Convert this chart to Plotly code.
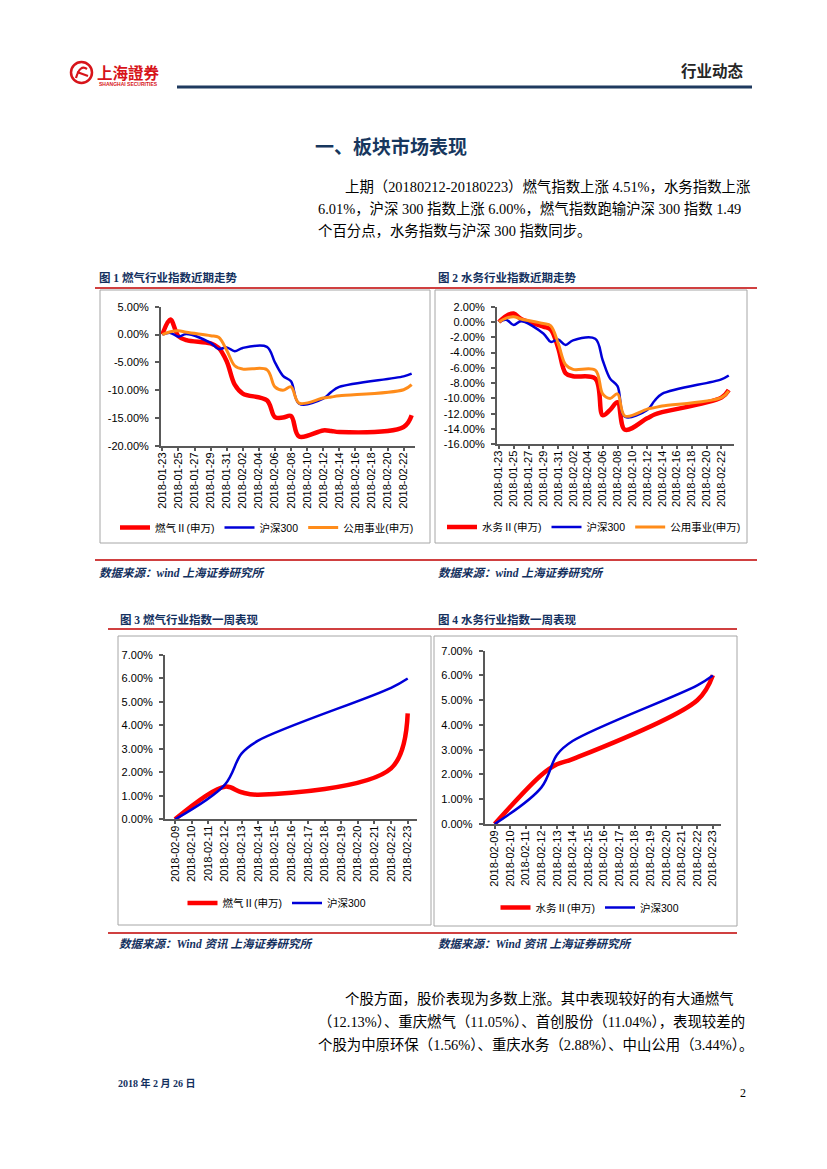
import plotly.graph_objects as go

W, H = 827, 1169

# ---------------- data ----------------
dates_month = ['2018-01-23', '2018-01-24', '2018-01-25', '2018-01-26', '2018-01-29',
               '2018-01-30', '2018-01-31', '2018-02-01', '2018-02-02', '2018-02-05',
               '2018-02-06', '2018-02-07', '2018-02-08', '2018-02-09', '2018-02-12',
               '2018-02-13', '2018-02-14', '2018-02-22', '2018-02-23']
gas_month = [0, 2.7, -0.3, -1.0, -1.6, -2.4, -4.8, -9.0, -10.6, -11.8,
             -14.8, -14.9, -14.6, -18.3, -17.2, -17.3, -17.5, -16.6, -14.5]
water_month = [0, 0.8, 1.1, 0.4, -0.6, -1.0, -3.4, -6.7, -7.1, -7.4,
               -12.2, -11.5, -10.5, -14.1, -12.6, -12.1, -11.8, -9.9, -8.9]
hs300_month = [0, 0.3, -0.4, 0.1, -1.5, -2.6, -2.3, -3.0, -2.4, -2.2,
               -5.0, -7.4, -8.4, -12.4, -11.5, -10.3, -9.4, -7.5, -7.0]
util_month = [0, 0.5, 0.7, 0.4, -0.2, -0.5, -2.8, -5.6, -6.2, -6.3,
              -9.4, -10.0, -9.4, -12.3, -11.4, -11.2, -11.0, -9.9, -9.0]

dates_week = ['2018-02-09', '2018-02-12', '2018-02-13', '2018-02-14', '2018-02-22', '2018-02-23']
gas_week = [0, 1.39, 1.15, 1.05, 2.17, 4.51]
water_week = [0, 1.98, 2.41, 2.62, 5.0, 6.01]
hs300_week = [0, 1.48, 2.8, 3.35, 5.6, 6.00]

y_ticks_1 = [-20, -15, -10, -5, 0, 5]
y_ticks_2 = [-16, -14, -12, -10, -8, -6, -4, -2, 0, 2]
y_ticks_w = [0, 1, 2, 3, 4, 5, 6, 7]

name_gas = '燃气Ⅱ(申万)'
name_water = '水务Ⅱ(申万)'
name_hs300 = '沪深300'
name_util = '公用事业(申万)'

# ---------------- style ----------------
RED = '#FF0000'
BLUE = '#0000D8'
ORANGE = '#FF8C1A'
AXIS = '#595959'
RULE = '#C00000'
NAVY = '#13305E'
BOX = '#A6A6A6'
SANS = 'Liberation Sans, Arial, Noto Sans CJK SC'
SERIF = 'Liberation Serif, Noto Sans CJK SC'
CJK = 'Noto Sans CJK SC'


def fx(p):
    return p / W


def fy(p):
    return 1 - p / H


def pct(v):
    return f'{v:.2f}%'


fig = go.Figure()


def add_line(x, y, name, color, width, ax, leg):
    fig.add_trace(go.Scatter(
        x=x, y=y, name=name, mode='lines',
        line=dict(color=color, width=width, shape='spline', smoothing=1),
        xaxis='x' + ax, yaxis='y' + ax, legend=leg, hoverinfo='skip'))


add_line(dates_month, gas_month, name_gas, RED, 4.5, '', 'legend')
add_line(dates_month, hs300_month, name_hs300, BLUE, 2.5, '', 'legend')
add_line(dates_month, util_month, name_util, ORANGE, 3, '', 'legend')

add_line(dates_month, water_month, name_water, RED, 4.5, '2', 'legend2')
add_line(dates_month, hs300_month, name_hs300, BLUE, 2.5, '2', 'legend2')
add_line(dates_month, util_month, name_util, ORANGE, 3, '2', 'legend2')

add_line(dates_week, gas_week, name_gas, RED, 4.5, '3', 'legend3')
add_line(dates_week, hs300_week, name_hs300, BLUE, 2.5, '3', 'legend3')

add_line(dates_week, water_week, name_water, RED, 4.5, '4', 'legend4')
add_line(dates_week, hs300_week, name_hs300, BLUE, 2.5, '4', 'legend4')

common_axis = dict(showline=True, linecolor=AXIS, linewidth=2, ticks='outside',
                   ticklen=4, tickwidth=1.5, tickcolor=AXIS, showgrid=False,
                   zeroline=False, automargin=False,
                   tickfont=dict(family=SANS, size=11, color='#000000'))


def xaxis(dom, rng, tick0, dtick, anchor):
    d = dict(common_axis)
    d.update(domain=[fx(dom[0]), fx(dom[1])], type='date', range=rng, tick0=tick0,
             dtick=dtick, tickformat='%Y-%m-%d', tickangle=-90, anchor=anchor,
             ticklen=3, ticklabelstandoff=-3)
    return d


def yaxis(dom, rng, ticks, anchor):
    d = dict(common_axis)
    d.update(domain=[fy(dom[1]), fy(dom[0])], range=rng, tickvals=ticks,
             ticktext=[pct(t) for t in ticks], anchor=anchor, ticklabelstandoff=4)
    return d


DAY = 86400000

layout = dict(
    width=W, height=H, margin=dict(l=0, r=0, t=0, b=0),
    paper_bgcolor='white', plot_bgcolor='white', template='none',
    xaxis=xaxis((161, 415), ['2018-01-22 20:00', '2018-02-23 10:00'], '2018-01-23', 2 * DAY, 'y'),
    yaxis=yaxis((306.7, 446), [-20, 5], y_ticks_1, 'x'),
    xaxis2=xaxis((497, 733.7), ['2018-01-22 18:00', '2018-02-23 16:00'], '2018-01-23', 2 * DAY, 'y2'),
    yaxis2=yaxis((306.7, 444.3), [-16, 2], y_ticks_2, 'x2'),
    xaxis3=xaxis((165, 416.7), ['2018-02-08 09:30', '2018-02-23 13:00'], '2018-02-09', DAY, 'y3'),
    yaxis3=yaxis((655, 819.3), [0, 7], y_ticks_w, 'x3'),
    xaxis4=xaxis((484.7, 721.3), ['2018-02-08 08:40', '2018-02-23 13:00'], '2018-02-09', DAY, 'y4'),
    yaxis4=yaxis((650.7, 824), [0, 7], y_ticks_w, 'x4'),
)

legend_common = dict(orientation='h', xanchor='center', yanchor='middle',
                     bgcolor='rgba(0,0,0,0)', font=dict(family=SANS, size=10.5, color='#000000'),
                     itemwidth=30)
layout['legend'] = dict(legend_common, x=fx(267), y=fy(527.5))
layout['legend2'] = dict(legend_common, x=fx(594), y=fy(527))
layout['legend3'] = dict(legend_common, x=fx(277), y=fy(903))
layout['legend4'] = dict(legend_common, x=fx(590), y=fy(907.5))
fig.update_layout(**layout)

# ---------------- page shapes ----------------
shapes = []


def hline(x0, x1, y, color, width):
    shapes.append(dict(type='line', xref='paper', yref='paper', x0=fx(x0), x1=fx(x1),
                       y0=fy(y), y1=fy(y), line=dict(color=color, width=width)))


def rect(x0, y0, x1, y1, color, width):
    shapes.append(dict(type='rect', xref='paper', yref='paper', x0=fx(x0), x1=fx(x1),
                       y0=fy(y1), y1=fy(y0), line=dict(color=color, width=width)))


hline(177, 752, 87, '#1F3A5F', 3)
hline(95, 757, 288, RULE, 1.3)
hline(95, 757, 560, RULE, 1.3)
hline(108, 737, 629, RULE, 1.3)
hline(108, 737, 933, RULE, 1.3)
rect(100, 290, 430, 543, BOX, 1)
rect(435, 290, 747, 543, BOX, 1)
rect(118, 636, 431, 925, BOX, 1)
rect(434, 636, 737, 926, BOX, 1)

# logo circle
shapes.append(dict(type='circle', xref='paper', yref='paper', x0=fx(71), x1=fx(92),
                   y0=fy(83), y1=fy(62), line=dict(color='#D7141A', width=2.5)))
shapes.append(dict(type='path', xref='paper', yref='paper',
                   path=f'M {fx(76)} {fy(78)} Q {fx(80)} {fy(64)} {fx(87)} {fy(69)} '
                        f'M {fx(77)} {fy(72)} L {fx(88)} {fy(76)}',
                   line=dict(color='#D7141A', width=2.2)))
fig.update_layout(shapes=shapes)

# ---------------- page text ----------------
ann = []


def text(s, x, y, size, family=SERIF, color='#000000', anchor='left'):
    ann.append(dict(text=s, x=fx(x), y=fy(y), xref='paper', yref='paper', showarrow=False,
                    xanchor=anchor, yanchor='middle',
                    font=dict(family=family, size=size, color=color)))


BODY = 14.4
text('<b>上海證券</b>', 95, 72, 15.5, 'Noto Sans CJK TC', '#D7141A')
text('<b>SHANGHAI SECURITIES</b>', 97, 84, 5, SANS, '#D7141A')
text('<b>行业动态</b>', 746, 70, 15.5, CJK, '#262626', 'right')

text('<b>一、板块市场表现</b>', 313, 145, 19, CJK, '#17375E')
text('上期（20180212-20180223）燃气指数上涨 4.51%，水务指数上涨', 343, 186, BODY)
text('6.01%，沪深 300 指数上涨 6.00%，燃气指数跑输沪深 300 指数 1.49', 316, 208, BODY)
text('个百分点，水务指数与沪深 300 指数同步。', 316, 231, BODY)

text('<b>图 1 燃气行业指数近期走势</b>', 97, 278, 11.5, SERIF, NAVY)
text('<b>图 2 水务行业指数近期走势</b>', 436, 278, 11.5, SERIF, NAVY)
text('<b><i>数据来源：wind 上海证券研究所</i></b>', 97, 573, 11.5, SERIF, NAVY)
text('<b><i>数据来源：wind 上海证券研究所</i></b>', 436, 573, 11.5, SERIF, NAVY)

text('<b>图 3 燃气行业指数一周表现</b>', 118, 619, 11.5, SERIF, NAVY)
text('<b>图 4 水务行业指数一周表现</b>', 436, 619, 11.5, SERIF, NAVY)
text('<b><i>数据来源：Wind 资讯 上海证券研究所</i></b>', 117, 944, 11.5, SERIF, NAVY)
text('<b><i>数据来源：Wind 资讯 上海证券研究所</i></b>', 436, 944, 11.5, SERIF, NAVY)

text('个股方面，股价表现为多数上涨。其中表现较好的有大通燃气', 343, 998, BODY)
text('（12.13%）、重庆燃气（11.05%）、首创股份（11.04%），表现较差的', 316, 1021, BODY)
text('个股为中原环保（1.56%）、重庆水务（2.88%）、中山公用（3.44%）。', 316, 1045, BODY)

text('<b>2018 年 2 月 26 日</b>', 116, 1083, 10, SERIF, NAVY)
text('2', 748, 1093, 12, SERIF, '#000000', 'right')

fig.update_layout(annotations=ann)

fig.write_html('out.html', config={'displayModeBar': False},
               post_script="document.body.style.margin='0';document.body.style.padding='0';")
